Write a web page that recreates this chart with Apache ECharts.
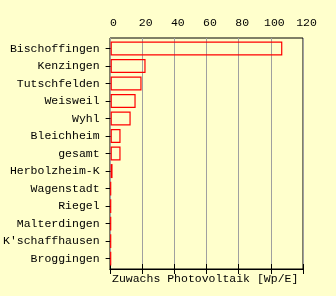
<!DOCTYPE html>
<html><head><meta charset="utf-8">
<script src="https://cdn.jsdelivr.net/npm/echarts@6/dist/echarts.min.js"></script>
<style>html,body{margin:0;padding:0;background:#ffffcc}#c{width:336px;height:296px}</style>
</head><body><div id="c"></div>
<script>
var categories = ["Bischoffingen","Kenzingen","Tutschfelden","Weisweil","Wyhl","Bleichheim","gesamt","Herbolzheim-K","Wagenstadt","Riegel","Malterdingen","K'schaffhausen","Broggingen"];
var values = [107.1, 21.8, 19.3, 15.6, 12.5, 6.2, 6.2, 1.2, 0.1, 0.1, 0.1, 0.1, 0.1];
var xTicks = {min: 0, max: 120, interval: 20};
var axisTitle = "Zuwachs Photovoltaik [Wp/E]";

var font = "'Liberation Mono', 'DejaVu Sans Mono', monospace";
var chart = echarts.init(document.getElementById('c'), null, {renderer: 'canvas'});
chart.setOption({
  backgroundColor: '#ffffcc',
  animation: false,
  title: {text: axisTitle, left: 112, top: 273, padding: 0, textStyle: {fontFamily: font, fontSize: 11.5, fontWeight: 'normal', color: '#000'}},
  grid: [
    {left: 110, right: 33, top: 38, bottom: 27, show: true, borderColor: '#000', borderWidth: 1, backgroundColor: 'transparent'},
    {left: 110, right: 33, top: 39.7, bottom: 28.6}
  ],
  xAxis: [
    {gridIndex: 0, type: 'value', position: 'top', min: xTicks.min, max: xTicks.max, interval: xTicks.interval,
     axisLine: {show: true, lineStyle: {color: '#000'}},
     axisTick: {show: true, inside: true, length: 5, lineStyle: {color: '#000'}},
     axisLabel: {show: true, margin: 9, color: '#000', fontFamily: font, fontSize: 11.5, padding: [0, 0, 0, 7]},
     splitLine: {show: true, lineStyle: {color: '#a0a0a0', width: 1}}},
    {gridIndex: 0, type: 'value', position: 'bottom', min: xTicks.min, max: xTicks.max, interval: xTicks.interval,
     axisLine: {show: true, lineStyle: {color: '#000'}},
     axisTick: {show: true, inside: true, length: 5, lineStyle: {color: '#000'}},
     axisLabel: {show: false}, splitLine: {show: false}},
    {gridIndex: 1, type: 'value', min: xTicks.min, max: xTicks.max, show: false}
  ],
  yAxis: [
    {gridIndex: 0, type: 'value', show: false},
    {gridIndex: 1, type: 'category', data: categories, inverse: true,
     axisLine: {show: false},
     axisTick: {show: true, alignWithLabel: true, length: 5, lineStyle: {color: '#000'}},
     axisLabel: {margin: 11, color: '#000', fontFamily: font, fontSize: 11.5}}
  ],
  series: [{
    type: 'bar', xAxisIndex: 2, yAxisIndex: 1, data: values, barWidth: 14,
    itemStyle: {color: 'rgba(0,0,0,0)', borderColor: '#ff0000', borderWidth: 1.2}
  }]
});
</script></body></html>
